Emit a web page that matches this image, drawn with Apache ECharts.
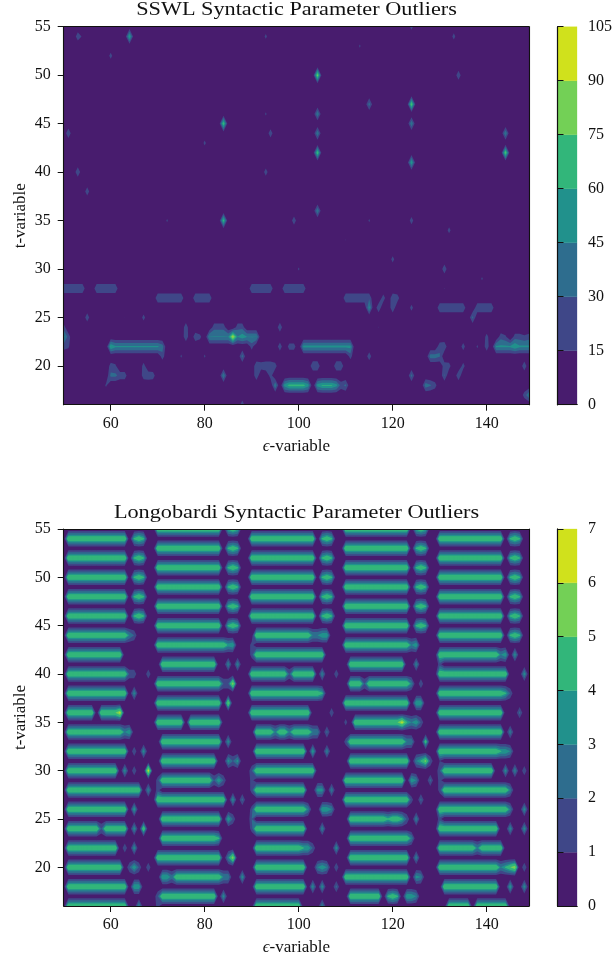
<!DOCTYPE html>
<html><head><meta charset="utf-8">
<style>html,body{margin:0;padding:0;background:#fff}#c{width:613px;height:957px}</style>
<script src="https://cdn.jsdelivr.net/npm/echarts@6/dist/echarts.min.js"></script>
</head><body><div id="c"></div>
<script>
const epsilonMin = 50, epsilonMax = 149, tMin = 16, tMax = 55;
const xTicks = [60, 80, 100, 120, 140];
const yTicks = [20, 25, 30, 35, 40, 45, 50, 55];
const sswlLevels = [0, 15, 30, 45, 60, 75, 90, 105];
const longoLevels = [0, 1, 2, 3, 4, 5, 6, 7];
const bandColors = ['#481c6e', '#3f4788', '#2e6d8e', '#21918c', '#32b67a', '#73d056', '#d0e11c'];
const sswlTitle = 'SSWL Syntactic Parameter Outliers';
const longoTitle = 'Longobardi Syntactic Parameter Outliers';

// each row: t, then runs of (epsilon from, epsilon to, value)
const sswlUpper = [
  [55, 124,124,22],
  [54, 53,53,26, 54,54,12, 64,64,62, 93,93,20, 133,133,22],
  [53, 113,113,18],
  [52, 60,60,22],
  [50, 104,104,85, 134,134,28],
  [47, 115,115,38, 124,124,80],
  [46, 93,93,18, 104,104,44],
  [45, 84,84,75, 124,124,44],
  [44, 51,51,29.5, 94,94,26, 104,104,44, 144,144,44],
  [43, 80,80,20],
  [42, 104,104,75, 144,144,80],
  [41, 124,124,60],
  [40, 53,53,29.5, 93,93,24],
  [38, 55,55,26],
  [36, 104,104,44],
  [35, 72,72,18, 84,84,70, 99,99,26, 115,115,18, 124,124,24],
  [34, 132,132,22],
  [33, 110,110,16],
  [31, 120,120,22],
  [30, 100,100,18, 131,131,28],
  [29, 139,139,18]
];
const sswlLower = [
  [28, 50,54,28, 57,61,28, 90,94,28, 97,101,28, 131,131,16],
  [27, 70,75,28, 78,81,28, 110,115,28, 118,118,24, 120,120,28, 121,121,24],
  [26, 115,115,50, 117,117,28, 120,120,29, 124,124,22, 130,135,28, 138,141,28],
  [25, 55,55,26, 63,63,15.5, 67,67,22, 137,137,35],
  [24, 50,50,22, 76,76,26, 82,84,24, 87,88,24, 96,96,28, 117,117,16],
  [23, 50,50,50, 51,51,24, 76,76,28, 78,78,26, 79,79,20, 81,85,46, 86,86,95, 87,87,46, 88,88,55, 89,91,46, 140,140,22, 143,143,24, 144,144,18, 146,147,22, 148,148,18, 149,149,22],
  [22, 50,50,22, 51,51,18, 60,60,62, 61,70,48, 71,71,38, 90,90,22, 96,96,26, 98,99,22, 101,111,50, 130,130,26, 131,131,28, 135,135,24, 138,138,18, 140,140,26, 142,145,48, 146,146,58, 147,149,48],
  [21, 71,71,24, 75,75,18, 80,80,18, 88,88,36, 111,111,22, 115,115,26, 128,129,38, 130,130,32],
  [20, 60,60,22, 61,61,18, 67,67,22, 91,91,28, 92,92,24, 93,94,28, 95,95,22, 103,104,29, 108,109,29, 131,131,24, 132,132,22, 135,135,22, 148,148,28],
  [19, 60,61,34, 62,63,24, 67,67,24, 68,68,26, 69,69,24, 84,84,44, 91,91,28, 94,94,22, 124,124,36, 131,131,32, 134,134,29],
  [18, 59,59,18, 95,95,44, 97,97,52, 98,101,66, 102,102,52, 104,104,52, 105,107,62, 108,108,52, 109,109,24, 110,110,34, 127,127,40, 128,128,32, 129,129,22],
  [17, 148,148,22, 149,149,44],
  [16, 88,88,26]
];
const longoColumn1 = [
  [54, 51,63,5, 65,65,4, 66,66,5, 67,67,4],
  [52, 51,63,5, 65,65,4, 66,66,5, 67,67,4],
  [50, 51,63,5, 65,65,4, 66,66,5, 67,67,4],
  [48, 51,63,5, 65,65,4, 66,66,5, 67,67,4],
  [46, 51,63,5, 65,65,4, 66,66,5, 67,67,4],
  [44, 51,63,5, 64,64,3, 65,65,2],
  [42, 51,62,5],
  [40, 51,63,5, 64,65,1.8, 68,68,1.9],
  [38, 51,63,5, 65,65,3.4],
  [36, 51,56,5, 58,61,5, 62,62,6.5],
  [34, 51,62,5, 63,63,3, 64,64,4],
  [32, 51,63,5, 65,65,1.9, 67,67,3.5],
  [30, 51,61,5, 63,63,3.5, 65,65,1.9, 68,68,6.8],
  [28, 51,66,5, 68,68,3.2],
  [26, 51,63,5, 65,65,3.9],
  [24, 51,57,5, 58,58,2, 59,63,5, 65,65,3.5, 67,67,5],
  [22, 51,61,5, 63,63,1.9, 65,65,3.5],
  [20, 51,62,5, 64,64,2, 65,65,4, 66,66,2, 68,68,1.9],
  [18, 51,63,5, 65,66,4],
  [16, 51,63,5, 66,66,3.4]
];
const longoColumn2 = [
  [55, 70,83,5, 85,85,4, 86,86,5, 87,87,4],
  [53, 70,83,5, 85,85,4, 86,86,5, 87,87,4],
  [51, 70,83,5, 85,85,4, 86,86,5, 87,87,4],
  [49, 70,83,5, 85,85,4, 86,86,5, 87,87,4],
  [47, 70,83,5, 85,85,4, 86,86,5, 87,87,4],
  [45, 70,83,5, 85,85,4, 86,86,5, 87,87,4],
  [43, 70,84,5, 85,85,3.5, 86,86,4],
  [41, 71,82,5, 85,85,3.2, 87,87,3.2],
  [39, 70,83,5, 84,85,2, 86,86,6],
  [37, 70,83,5, 85,85,5.5],
  [35, 70,75,5, 77,83,5],
  [33, 71,83,5, 85,85,3.5],
  [31, 71,82,5, 85,85,3.5, 86,86,2, 87,87,3.5],
  [29, 70,70,1.5, 71,81,5, 82,82,2, 83,83,4, 84,84,2],
  [27, 70,84,5, 86,86,3.5, 88,88,2.4],
  [25, 71,83,5, 85,85,4, 86,86,2],
  [23, 71,82,5, 83,83,4],
  [21, 70,83,5, 85,85,3, 86,86,6],
  [19, 71,72,4, 73,73,2.5, 74,83,5, 84,85,3, 88,88,3.5],
  [17, 70,70,2, 71,82,5, 84,84,3.5],
  [16, 70,70,1.5],
  [28, 70,70,1.5]
];
const longoColumn3 = [
  [54, 90,103,5, 105,105,4, 106,106,5, 107,107,4],
  [52, 90,103,5, 105,105,4, 106,106,5, 107,107,4],
  [50, 90,103,5, 105,105,4, 106,106,5, 107,107,4],
  [48, 90,103,5, 105,105,4, 106,106,5, 107,107,4],
  [46, 90,103,5, 105,105,4, 106,106,5, 107,107,4],
  [44, 91,102,5, 103,104,3, 105,106,4],
  [43, 90,90,1.5],
  [42, 90,90,1.5, 91,105,5],
  [40, 90,97,5, 98,98,2, 99,103,5, 105,105,3.2, 108,108,1.9],
  [38, 90,104,5, 105,105,4],
  [36, 90,102,5, 107,107,1.9],
  [34, 91,94,5, 95,95,3, 96,97,5, 98,98,3, 99,102,5, 103,104,3, 106,106,2.4],
  [32, 91,101,5, 103,103,4, 106,106,3.2],
  [30, 90,90,2, 91,103,5],
  [29, 90,90,1.5],
  [28, 90,90,1.5, 91,101,5, 104,105,3.5, 107,107,3],
  [26, 90,90,1.5, 91,101,5, 102,102,3, 105,106,4, 107,107,3],
  [25, 90,90,2],
  [24, 90,90,1.5, 91,101,5, 105,105,3.2],
  [22, 91,100,5, 101,102,4, 103,103,2, 108,108,3.5],
  [20, 91,101,5, 104,104,3, 105,105,4, 106,106,3, 108,108,1.9],
  [18, 91,101,5, 103,103,3.5, 105,105,3.5, 108,108,2.4],
  [16, 91,100,5, 105,105,3.2]
];
const longoColumn4 = [
  [55, 110,123,5, 125,125,4, 126,126,5, 127,127,4],
  [53, 110,123,5, 125,125,4, 126,126,5, 127,127,4],
  [51, 110,123,5, 125,125,4, 126,126,5, 127,127,4],
  [49, 110,123,5, 125,125,4, 126,126,5, 127,127,4],
  [47, 110,123,5, 125,125,4, 126,126,5, 127,127,4],
  [45, 110,123,5, 125,125,4, 126,126,5, 127,127,4],
  [43, 110,123,5, 124,124,3, 125,125,4],
  [41, 111,122,5, 125,125,3.2],
  [39, 111,113,5, 114,114,2, 115,123,5, 124,124,3, 126,126,1.9],
  [37, 110,123,5, 125,126,4],
  [35, 110,110,1.5, 112,121,5, 122,122,6.5, 123,123,4, 124,124,3, 125,125,4, 126,126,2],
  [33, 110,110,1.5, 111,122,5, 123,124,3, 127,127,4.5],
  [31, 111,123,5, 125,125,3, 126,126,4, 127,127,5.5, 128,128,2],
  [29, 110,122,5, 124,124,4, 125,125,3, 128,128,2.4],
  [27, 110,123,5, 124,124,1.5, 126,126,2.4],
  [25, 111,118,5, 119,119,4, 120,121,5, 122,122,4, 123,123,2, 125,125,3.2],
  [23, 111,123,5, 124,124,3],
  [21, 111,123,5, 125,125,3.2],
  [19, 110,123,5, 125,125,3.5, 126,126,3],
  [17, 111,117,5, 119,119,4, 120,120,5, 121,121,4, 123,124,4, 125,125,3]
];
const longoColumn5 = [
  [54, 130,143,5, 145,145,4, 146,146,5, 147,147,4],
  [52, 130,143,5, 145,145,4, 146,146,5, 147,147,4],
  [50, 130,143,5, 145,145,4, 146,146,5, 147,147,4],
  [48, 130,143,5, 145,145,4, 146,146,5, 147,147,4],
  [46, 130,143,5, 145,145,4, 146,146,5, 147,147,4],
  [44, 130,143,5, 145,145,4, 146,146,5, 147,147,4],
  [42, 130,142,5, 143,143,3, 144,144,4, 146,146,3.5],
  [41, 130,130,1.5],
  [40, 130,144,5, 148,148,3.5],
  [38, 130,143,5, 144,144,4, 145,145,2],
  [36, 130,143,5, 147,147,2.4],
  [34, 130,143,5, 145,145,3],
  [32, 130,142,5, 143,144,4, 145,145,3],
  [31, 130,130,1],
  [30, 130,130,2, 131,141,5, 144,144,3.5, 146,146,3.2, 148,148,1.9],
  [29, 130,130,1.5],
  [28, 130,130,1.5, 131,144,5, 145,145,3],
  [26, 130,144,5, 145,145,3, 148,148,3.5],
  [25, 130,130,1.5],
  [24, 130,142,5, 145,145,3.5, 148,148,3.5],
  [22, 130,137,5, 138,138,3, 139,143,5],
  [20, 130,142,5, 143,143,3, 144,144,4, 145,145,5, 146,146,6, 148,148,1.9],
  [18, 131,142,5, 145,145,3.9, 148,148,3.5],
  [16, 132,136,5, 138,144,5]
];

function buildGrid(rowSets) {
  const g = [];
  for (let t = tMin; t <= tMax; t++) g.push(new Array(epsilonMax - epsilonMin + 1).fill(0));
  rowSets.forEach(rows => rows.forEach(r => {
    for (let i = 1; i < r.length; i += 3)
      for (let e = r[i]; e <= r[i + 1]; e++) g[r[0] - tMin][e - epsilonMin] = r[i + 2];
  }));
  return g;
}
function clipCell(pts, lv) {
  const out = [];
  for (let i = 0; i < pts.length; i++) {
    const a = pts[i], b = pts[(i + 1) % pts.length];
    const ai = a[2] >= lv, bi = b[2] >= lv;
    if (ai) out.push(a);
    if (ai !== bi) {
      const f = (lv - a[2]) / (b[2] - a[2]);
      out.push([a[0] + f * (b[0] - a[0]), a[1] + f * (b[1] - a[1]), lv]);
    }
  }
  return out;
}
function area(p) {
  let s = 0;
  for (let i = 0; i < p.length; i++) {
    const a = p[i], b = p[(i + 1) % p.length];
    s += a[0] * b[1] - b[0] * a[1];
  }
  return Math.abs(s) / 2;
}
// one list of cell polygons per colour band; each list is filled as a single path
function buildBands(grid, levels) {
  const bands = [[[[epsilonMin, tMin], [epsilonMax, tMin], [epsilonMax, tMax], [epsilonMin, tMax]]]];
  for (let k = 1; k < levels.length - 1; k++) {
    const list = [];
    for (let j = 0; j < grid.length - 1; j++) for (let i = 0; i < grid[0].length - 1; i++) {
      const x = epsilonMin + i, y = tMin + j;
      const q = [[x, y, grid[j][i]], [x + 1, y, grid[j][i + 1]], [x + 1, y + 1, grid[j + 1][i + 1]], [x, y + 1, grid[j + 1][i]]];
      if (Math.max(q[0][2], q[1][2], q[2][2], q[3][2]) < levels[k]) continue;
      const p = clipCell(q, levels[k]);
      if (p.length >= 3 && area(p) > 1e-6) list.push(p);
    }
    bands.push(list);
  }
  return bands;
}
echarts.graphic.registerShape('contourBand', echarts.graphic.extendShape({
  shape: { polys: [] },
  buildPath(ctx, shape) {
    shape.polys.forEach(poly => {
      poly.forEach((p, i) => { if (i) ctx.lineTo(p[0], p[1]); else ctx.moveTo(p[0], p[1]); });
      ctx.closePath();
    });
  }
}));
function contourSeries(bands, gridIndex, strokeBand) {
  return {
    type: 'custom', coordinateSystem: 'cartesian2d', xAxisIndex: gridIndex, yAxisIndex: gridIndex,
    clip: true, silent: true, progressive: 0, animation: false, z: 2,
    data: bands.map((b, k) => [epsilonMin, tMin, k]),
    renderItem: (params, api) => {
      const k = api.value(2);
      const style = { fill: bandColors[k] };
      if (k === strokeBand) { style.stroke = bandColors[k]; style.lineWidth = 1.1; style.lineJoin = 'round'; }
      return {
        type: 'contourBand',
        shape: { polys: bands[k].map(poly => poly.map(q => api.coord([q[0], q[1]]))) },
        style
      };
    }
  };
}
function colorbarSeries(levels, gridIndex) {
  const rects = bandColors.map((c, i) => [0, levels[i], 1, levels[i + 1], i]);
  return {
    type: 'custom', coordinateSystem: 'cartesian2d', xAxisIndex: gridIndex, yAxisIndex: gridIndex,
    silent: true, progressive: 0, animation: false, z: 2, data: rects,
    renderItem: (params, api) => {
      const a = api.coord([api.value(0), api.value(1)]);
      const b = api.coord([api.value(2), api.value(3)]);
      return { type: 'rect', shape: { x: a[0], y: b[1], width: b[0] - a[0], height: a[1] - b[1] },
        style: { fill: bandColors[api.value(4)], stroke: bandColors[api.value(4)], lineWidth: 0.3 } };
    }
  };
}

const font = 'Liberation Serif';
const ink = '#111';
const frame = { show: true, lineStyle: { color: ink, width: 1.1 } };
const tick = vals => ({ show: true, length: 6, inside: false, lineStyle: { color: ink, width: 1 }, customValues: vals });
const label = (vals, m) => ({ show: true, fontFamily: font, fontSize: 16, color: ink, margin: m, customValues: vals, formatter: v => String(v) });

function xAxes(grid) {
  return [{
    type: 'value', gridIndex: grid, min: epsilonMin, max: epsilonMax, position: 'bottom', z: 5,
    splitLine: { show: false }, axisLine: frame, axisTick: tick(xTicks), axisLabel: label(xTicks, 11),
    name: '{e|\u03f5}-variable', nameLocation: 'middle', nameGap: 33,
    nameTextStyle: { fontFamily: font, fontSize: 17, color: ink, rich: { e: { fontFamily: font, fontStyle: 'italic', fontSize: 17, color: ink } } }
  }];
}
function yAxes(grid) {
  return [{
    type: 'value', gridIndex: grid, min: tMin, max: tMax, position: 'left', z: 5,
    splitLine: { show: false }, axisLine: frame, axisTick: tick(yTicks), axisLabel: label(yTicks, 13),
    name: 't-variable', nameLocation: 'middle', nameGap: 35, nameMoveOverlap: false,
    nameTextStyle: { fontFamily: font, fontSize: 17, color: ink }
  }];
}
const frameX = grid => ({ type: 'value', gridIndex: grid, min: epsilonMin, max: epsilonMax, position: 'top', z: 5, axisLine: frame, axisTick: { show: false }, axisLabel: { show: false }, splitLine: { show: false } });
const frameY = grid => ({ type: 'value', gridIndex: grid, min: tMin, max: tMax, position: 'right', z: 5, axisLine: frame, axisTick: { show: false }, axisLabel: { show: false }, splitLine: { show: false } });
const barX = grid => ({ type: 'value', gridIndex: grid, min: 0, max: 1, position: 'bottom', z: 5, axisLine: frame, axisTick: { show: false }, axisLabel: { show: false }, splitLine: { show: false } });
const barY = (grid, levels) => ({ type: 'value', gridIndex: grid, min: 0, max: levels[levels.length - 1], position: 'right', z: 5, splitLine: { show: false }, axisLine: frame, axisTick: tick(levels), axisLabel: label(levels, 11) });
const barXTop = grid => Object.assign(barX(grid), { position: 'top' });
const barYLeft = (grid, levels) => ({ type: 'value', gridIndex: grid, min: 0, max: levels[levels.length - 1], position: 'left', z: 5, splitLine: { show: false }, axisLine: frame, axisTick: { show: false }, axisLabel: { show: false } });

const sswlBands = buildBands(buildGrid([sswlUpper, sswlLower]), sswlLevels);
const longoBands = buildBands(buildGrid([longoColumn1, longoColumn2, longoColumn3, longoColumn4, longoColumn5]), longoLevels);

const titleText = (text, y) => ({
  type: 'text', x: 296.5, y, scaleX: 1.125, originX: 0, originY: 0, z: 10, silent: true,
  style: { text, fontFamily: font, fontSize: 19.8, fill: ink, align: 'center', verticalAlign: 'middle' }
});

const plotGrid = (left, top, width, height) => ({ left, top, width, height, containLabel: false, outerBoundsMode: 'none' });

const chart = echarts.init(document.getElementById('c'), null, { renderer: 'canvas', width: 613, height: 957 });
chart.setOption({
  animation: false,
  backgroundColor: '#fff',
  graphic: [titleText(sswlTitle, 10), titleText(longoTitle, 513)],
  grid: [
    plotGrid(63.7, 26.7, 465.3, 378),
    plotGrid(63.7, 529, 465.3, 377),
    plotGrid(557.5, 26.7, 19.5, 378),
    plotGrid(557.5, 529, 19.5, 377)
  ],
  xAxis: [xAxes(0)[0], xAxes(1)[0], barX(2), barX(3), frameX(0), frameX(1), barXTop(2), barXTop(3)],
  yAxis: [yAxes(0)[0], yAxes(1)[0], barY(2, sswlLevels), barY(3, longoLevels), frameY(0), frameY(1), barYLeft(2, sswlLevels), barYLeft(3, longoLevels)],
  series: [contourSeries(sswlBands, 0, -1), contourSeries(longoBands, 1, 4), colorbarSeries(sswlLevels, 2), colorbarSeries(longoLevels, 3)]
});
</script></body></html>
